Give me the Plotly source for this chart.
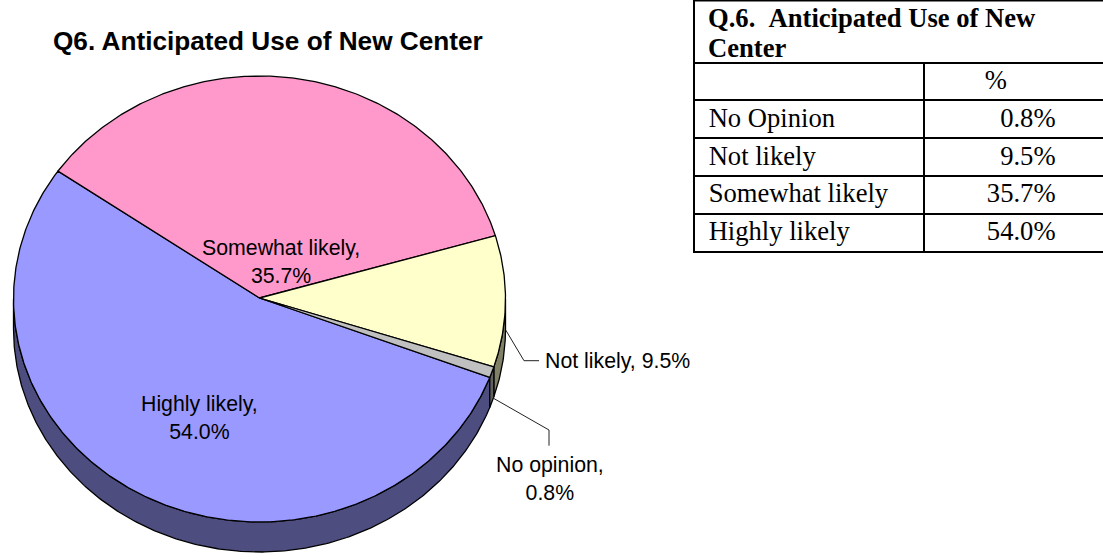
import math
import plotly.graph_objects as go

# Data (in clockwise drawing order of the pie)
pie_categories = ["Highly likely", "Somewhat likely", "Not likely", "No opinion"]
pie_values = [54.0, 35.7, 9.5, 0.8]
top_colors = ["#9999FF", "#FF99CC", "#FFFFCC", "#C0C0C0"]
side_colors = ["#4D4D80", "#804D66", "#808066", "#606060"]

table_title_lines = ["Q.6.\u00a0\u00a0Anticipated Use of New", "Center"]
table_header = "%"
table_rows = ["No Opinion", "Not likely", "Somewhat likely", "Highly likely"]
table_values = ["0.8%", "9.5%", "35.7%", "54.0%"]

chart_title = "Q6. Anticipated Use of New Center"

# Geometry of the tilted pie, in page pixels
W, H = 1103, 560
CX, CY, RX, RY, DEPTH = 259.5, 299.0, 246.0, 223.0, 30.0
APEX_Y = 298.0
START_DEG = 110.6


def ell(deg, dy=0.0):
    a = math.radians(deg)
    return CX + RX * math.sin(a), CY - RY * math.cos(a) + dy


def arc(a0, a1, dy=0.0):
    n = max(2, int(abs(a1 - a0) * 2))
    return [ell(a0 + (a1 - a0) * i / n, dy) for i in range(n + 1)]


fig = go.Figure()

# cumulative angles
spans = []
ang = START_DEG
for v in pie_values:
    spans.append((ang, ang + v * 3.6))
    ang += v * 3.6

# side walls (only the front half of the rim is visible)
for (a0, a1), col in zip(spans, side_colors):
    for off in (0, 360):
        l, h = max(a0 - off, 90.0), min(a1 - off, 270.0)
        if h > l:
            pts = arc(l, h) + arc(h, l, DEPTH)
            pts.append(pts[0])
            fig.add_trace(go.Scatter(x=[p[0] for p in pts], y=[p[1] for p in pts],
                                     mode="lines", fill="toself", fillcolor=col,
                                     line=dict(color="black", width=1.3), hoverinfo="skip"))

# top faces
for (a0, a1), col, name in zip(spans, top_colors, pie_categories):
    pts = [(CX, APEX_Y)] + arc(a0, a1) + [(CX, APEX_Y)]
    fig.add_trace(go.Scatter(x=[p[0] for p in pts], y=[p[1] for p in pts],
                             mode="lines", fill="toself", fillcolor=col, name=name,
                             line=dict(color="black", width=1.3), hoverinfo="name"))

# leader lines
for xs, ys in (([505.7, 524, 539], [330, 360.7, 360.7]),
               ([493, 549, 549], [398, 430, 445.7])):
    fig.add_trace(go.Scatter(x=xs, y=ys, mode="lines",
                             line=dict(color="#222222", width=1), hoverinfo="skip"))


def label(i):
    return f"{pie_categories[i]},<br>{pie_values[i]:.1f}%"


SANS = "Liberation Sans, Arial, sans-serif"
LBL = dict(family=SANS, size=21.3, color="black")
anns = [
    dict(x=281, y=262, text=label(1), xanchor="center", yanchor="middle"),
    dict(x=199, y=418, text=label(0), xanchor="center", yanchor="middle"),
    dict(x=542.5, y=361, text=f"{pie_categories[2]}, {pie_values[2]:.1f}%", xanchor="left", yanchor="middle"),
    dict(x=550, y=479, text=label(3), xanchor="center", yanchor="middle"),
]
for a in anns:
    a.update(xref="x", yref="y", showarrow=False, font=LBL)
anns.append(dict(x=267.5, y=41, xref="x", yref="y", text=f"<b>{chart_title}</b>", showarrow=False,
                 xanchor="center", yanchor="middle", font=dict(family=SANS, size=26.2, color="black")))

# Table
SERIF_NAME = "Liberation Serif, Times New Roman, serif"
SERIF = dict(family=SERIF_NAME, size=26.6, color="black")
for line_text, yy in zip(table_title_lines, (18, 48)):
    anns.append(dict(x=706, y=yy, xref="x", yref="y", text=f"<b>{line_text}</b>", showarrow=False,
                     xanchor="left", yanchor="middle", font=SERIF))

TABLE_LEFT = 694
COL_SPLIT = 924
ROW_LINES = [63, 100, 138, 176, 214, 252]
TEXT_TOP = 61
ROW_H = 37.8
NB = "\u00a0"
HAIR = "\u200a"
NO_LINE = dict(color="rgba(0,0,0,0)", width=0)
CLEAR = dict(color="rgba(0,0,0,0)")
value_indent = [10, 10, 8, 8]  # leading spaces that line the decimals up

fig.add_trace(go.Table(
    domain=dict(x=[TABLE_LEFT / W, 1.0], y=[1 - (TEXT_TOP + 5 * ROW_H + 4) / H, 1 - TEXT_TOP / H]),
    columnwidth=[COL_SPLIT - TABLE_LEFT, W - COL_SPLIT],
    header=dict(values=["", NB * 8 + table_header], height=ROW_H, align="left",
                line=NO_LINE, fill=CLEAR, font=SERIF),
    cells=dict(values=[[NB + t for t in table_rows],
                       [HAIR + NB * n + t for n, t in zip(value_indent, table_values)]],
               height=ROW_H, align="left", line=NO_LINE, fill=CLEAR, font=SERIF),
))

GRID = dict(color="black", width=2)
shapes = [dict(type="line", xref="x", yref="y", x0=TABLE_LEFT, x1=W, y0=0.5, y1=0.5, line=GRID),
          dict(type="line", xref="x", yref="y", x0=TABLE_LEFT, x1=TABLE_LEFT, y0=0, y1=ROW_LINES[-1] + 1, line=GRID),
          dict(type="line", xref="x", yref="y", x0=COL_SPLIT, x1=COL_SPLIT, y0=ROW_LINES[0], y1=ROW_LINES[-1], line=GRID)]
for yy in ROW_LINES:
    shapes.append(dict(type="line", xref="x", yref="y", x0=TABLE_LEFT, x1=W, y0=yy, y1=yy, line=GRID))

fig.update_layout(
    width=W, height=H, margin=dict(l=0, r=0, t=0, b=0), showlegend=False,
    paper_bgcolor="white", plot_bgcolor="white",
    xaxis=dict(range=[0, W], visible=False, fixedrange=True),
    yaxis=dict(range=[H, 0], visible=False, fixedrange=True),
    annotations=anns,
    shapes=shapes,
)
fig.write_html("out.html", config=dict(displayModeBar=False),
               post_script="document.body.style.margin='0';document.documentElement.style.overflow='hidden';")
